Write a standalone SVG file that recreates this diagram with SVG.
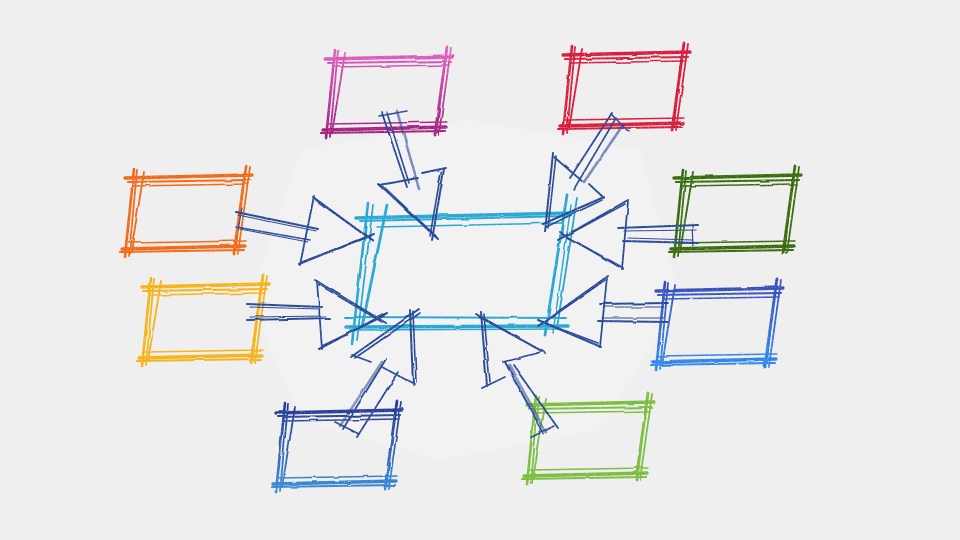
<svg xmlns="http://www.w3.org/2000/svg" xmlns:xlink="http://www.w3.org/1999/xlink" width="960" height="540" viewBox="0 0 960 540">
<defs>
<style>
.sk line{stroke-linecap:round;fill:none}
.arr line{stroke-linecap:round;fill:none}
</style>
<filter id="grain" filterUnits="userSpaceOnUse" x="0" y="0" width="960" height="540">
<feTurbulence type="fractalNoise" baseFrequency="0.04" numOctaves="2" seed="4" result="w"/>
<feDisplacementMap in="SourceGraphic" in2="w" scale="2.5" xChannelSelector="R" yChannelSelector="G" result="d"/>
<feTurbulence type="fractalNoise" baseFrequency="1.3" numOctaves="1" seed="9" result="n"/>
<feColorMatrix in="n" type="matrix" values="0 0 0 0 0 0 0 0 0 0 0 0 0 0 0 0 0 0 1.4 0.35" result="m"/>
<feComposite in="d" in2="m" operator="in"/>
</filter>
<linearGradient id="gMag" gradientUnits="userSpaceOnUse" x1="0" y1="0" x2="0" y2="90"><stop offset="0" stop-color="#e262c4"/><stop offset="1" stop-color="#9e1d7a"/></linearGradient>
<linearGradient id="gBlue" gradientUnits="userSpaceOnUse" x1="0" y1="0" x2="0" y2="90"><stop offset="0" stop-color="#3848b4"/><stop offset="1" stop-color="#2e8aee"/></linearGradient>
<linearGradient id="gNavy" gradientUnits="userSpaceOnUse" x1="0" y1="0" x2="0" y2="90"><stop offset="0" stop-color="#263392"/><stop offset="1" stop-color="#378bd4"/></linearGradient>
<g id="sk" class="sk">
<line x1="5" y1="13" x2="132" y2="10" stroke-width="3.4"/>
<line x1="7" y1="17" x2="130" y2="15" stroke-width="2.2"/>
<line x1="12" y1="21" x2="128" y2="19" stroke-width="1.4"/>
<line x1="2" y1="84" x2="125" y2="81" stroke-width="3.4"/>
<line x1="0" y1="87" x2="124" y2="85" stroke-width="2.2"/>
<line x1="8" y1="78" x2="126" y2="76" stroke-width="1.4"/>
<line x1="14" y1="4" x2="5" y2="92" stroke-width="2.6"/>
<line x1="17" y1="5" x2="9" y2="91" stroke-width="1.8"/>
<line x1="24" y1="7" x2="11" y2="87" stroke-width="1.8"/>
<line x1="126" y1="1" x2="114" y2="88" stroke-width="2.8"/>
<line x1="130" y1="2" x2="118" y2="88" stroke-width="1.8"/>
<line x1="124" y1="10" x2="116" y2="85" stroke-width="1.4"/>
</g>
</defs>
<rect width="960" height="540" fill="#efefef"/>
<g fill="#f2f2f2">
<polygon points="300,150 470,120 640,150 680,300 600,430 440,460 300,420 250,300"/>
</g>
<g filter="url(#grain)">
<g id="node-center" class="sk" stroke="#27a6d3">
<line x1="356" y1="218" x2="573" y2="213" stroke-width="3.6"/>
<line x1="360" y1="221" x2="570" y2="216" stroke-width="1.8"/>
<line x1="377" y1="227" x2="563" y2="223" stroke-width="1.5"/>
<line x1="345" y1="317" x2="566" y2="318" stroke-width="1.8"/>
<line x1="346" y1="327" x2="568" y2="326" stroke-width="3.6"/>
<line x1="350" y1="330" x2="560" y2="329" stroke-width="1.6"/>
<line x1="368" y1="203" x2="352" y2="344" stroke-width="2.6"/>
<line x1="373" y1="205" x2="357" y2="340" stroke-width="1.8"/>
<line x1="387" y1="205" x2="362" y2="327" stroke-width="2.8"/>
<line x1="567" y1="195" x2="545" y2="335" stroke-width="2.8"/>
<line x1="577" y1="198" x2="557" y2="328" stroke-width="1.8"/>
<line x1="571" y1="205" x2="553" y2="333" stroke-width="1.5"/>
</g>
<g id="node-magenta" stroke="url(#gMag)"><use href="#sk" transform="translate(321,46)"/></g>
<g id="node-red" stroke="#d81a3a"><use href="#sk" transform="translate(558,42)"/></g>
<g id="node-orange" stroke="#f36815"><use href="#sk" transform="translate(120,165)"/></g>
<g id="node-darkgreen" stroke="#386a0f"><use href="#sk" transform="translate(669,165)"/></g>
<g id="node-yellow" stroke="#f6b216"><use href="#sk" transform="translate(137,274)"/></g>
<g id="node-blue" stroke="url(#gBlue)"><use href="#sk" transform="translate(651,278)"/></g>
<g id="node-navy" stroke="url(#gNavy)"><use href="#sk" transform="translate(271,400)"/></g>
<g id="node-green" stroke="#7abd3f"><use href="#sk" transform="translate(522,392)"/></g>
<g id="connectors" class="arr" stroke="#284896" stroke-width="1.6">
<g id="arrow-orange">
<line x1="236" y1="212" x2="318" y2="229" stroke-width="2"/>
<line x1="238" y1="215" x2="316" y2="231" stroke-width="1.2"/>
<line x1="236" y1="227" x2="310" y2="240"/>
<line x1="240" y1="229" x2="308" y2="242" stroke-width="1.2"/>
<line x1="242" y1="208" x2="238" y2="230" stroke-width="1.2"/>
<line x1="313" y1="197" x2="373" y2="241" stroke-width="2"/>
<line x1="316" y1="200" x2="370" y2="239"/>
<line x1="299" y1="264" x2="373" y2="234" stroke-width="2"/>
<line x1="302" y1="262" x2="370" y2="236"/>
<line x1="314" y1="196" x2="300" y2="265" stroke-width="1.8"/>
</g>
<g id="arrow-yellow">
<line x1="247" y1="304" x2="322" y2="307" stroke-width="2"/>
<line x1="250" y1="307" x2="320" y2="309" stroke-width="1.2"/>
<line x1="247" y1="320" x2="330" y2="318" stroke-width="2"/>
<line x1="250" y1="317" x2="326" y2="316" stroke-width="1.2"/>
<line x1="315" y1="280" x2="386" y2="323" stroke-width="2"/>
<line x1="318" y1="284" x2="382" y2="322"/>
<line x1="319" y1="349" x2="387" y2="313" stroke-width="2"/>
<line x1="322" y1="346" x2="384" y2="316"/>
<line x1="317" y1="281" x2="322" y2="349" stroke-width="1.8"/>
</g>
<g id="arrow-magenta">
<line x1="382" y1="113" x2="407" y2="187" stroke-width="1.8"/>
<line x1="387" y1="113" x2="409" y2="183"/>
<line x1="397" y1="111" x2="419" y2="189" stroke-width="2.6" stroke-opacity="0.6"/>
<line x1="379" y1="116" x2="408" y2="111"/>
<line x1="380" y1="185" x2="418" y2="178" stroke-width="1.8"/>
<line x1="422" y1="173" x2="446" y2="168" stroke-width="1.8"/>
<line x1="379" y1="184" x2="438" y2="239" stroke-width="2"/>
<line x1="383" y1="186" x2="436" y2="236"/>
<line x1="444" y1="169" x2="432" y2="240" stroke-width="2"/>
<line x1="441" y1="172" x2="430" y2="236"/>
</g>
<g id="arrow-red">
<line x1="612" y1="113" x2="570" y2="178" stroke-width="1.8"/>
<line x1="616" y1="118" x2="574" y2="189"/>
<line x1="623" y1="125" x2="584" y2="182" stroke-width="2.6" stroke-opacity="0.6"/>
<line x1="611" y1="114" x2="629" y2="132"/>
<line x1="553" y1="153" x2="545" y2="232" stroke-width="2"/>
<line x1="556" y1="156" x2="548" y2="228"/>
<line x1="554" y1="157" x2="582" y2="181" stroke-width="1.8"/>
<line x1="589" y1="184" x2="604" y2="198" stroke-width="1.8"/>
<line x1="604" y1="197" x2="543" y2="224" stroke-width="2"/>
<line x1="602" y1="200" x2="546" y2="227"/>
</g>
<g id="arrow-darkgreen">
<line x1="618" y1="228" x2="698" y2="225" stroke-width="1.8"/>
<line x1="624" y1="231" x2="696" y2="230" stroke-width="1.2"/>
<line x1="623" y1="241" x2="698" y2="243" stroke-width="2"/>
<line x1="628" y1="238" x2="692" y2="240" stroke-width="1.2"/>
<line x1="692" y1="224" x2="693" y2="246" stroke-width="1.2"/>
<line x1="628" y1="200" x2="558" y2="240" stroke-width="2"/>
<line x1="625" y1="204" x2="562" y2="238"/>
<line x1="623" y1="269" x2="559" y2="232" stroke-width="2"/>
<line x1="620" y1="266" x2="563" y2="235"/>
<line x1="628" y1="201" x2="622" y2="269" stroke-width="1.8"/>
</g>
<g id="arrow-blue">
<line x1="600" y1="304" x2="668" y2="303" stroke-width="1.8"/>
<line x1="604" y1="307" x2="664" y2="307" stroke-width="1.2"/>
<line x1="598" y1="321" x2="668" y2="322" stroke-width="2"/>
<line x1="602" y1="318" x2="664" y2="318" stroke-width="1.2"/>
<line x1="608" y1="276" x2="538" y2="326" stroke-width="2"/>
<line x1="605" y1="280" x2="542" y2="324"/>
<line x1="601" y1="347" x2="538" y2="320" stroke-width="2"/>
<line x1="598" y1="343" x2="542" y2="322"/>
<line x1="607" y1="277" x2="600" y2="347" stroke-width="1.8"/>
</g>
<g id="arrow-navy">
<line x1="351" y1="357" x2="419" y2="309" stroke-width="2"/>
<line x1="355" y1="358" x2="420" y2="313"/>
<line x1="410" y1="310" x2="413" y2="385" stroke-width="2"/>
<line x1="413" y1="311" x2="416" y2="382"/>
<line x1="352" y1="355" x2="371" y2="362" stroke-width="1.8"/>
<line x1="382" y1="367" x2="414" y2="384" stroke-width="1.8"/>
<line x1="386" y1="359" x2="343" y2="429" stroke-width="1.8"/>
<line x1="382" y1="362" x2="340" y2="426" stroke-width="2.6" stroke-opacity="0.55"/>
<line x1="398" y1="372" x2="357" y2="437" stroke-width="1.8"/>
<line x1="335" y1="422" x2="359" y2="434"/>
</g>
<g id="arrow-green">
<line x1="476" y1="314" x2="545" y2="353" stroke-width="2"/>
<line x1="479" y1="317" x2="542" y2="351"/>
<line x1="481" y1="312" x2="487" y2="386" stroke-width="2"/>
<line x1="484" y1="314" x2="490" y2="382"/>
<line x1="482" y1="388" x2="505" y2="377" stroke-width="1.8"/>
<line x1="503" y1="362" x2="541" y2="352" stroke-width="1.8"/>
<line x1="505" y1="362" x2="544" y2="434" stroke-width="1.8"/>
<line x1="509" y1="365" x2="546" y2="432" stroke-width="2.6" stroke-opacity="0.55"/>
<line x1="513" y1="365" x2="558" y2="428" stroke-width="1.8"/>
<line x1="531" y1="438" x2="554" y2="426"/>
</g>
</g>
</g>
</svg>
